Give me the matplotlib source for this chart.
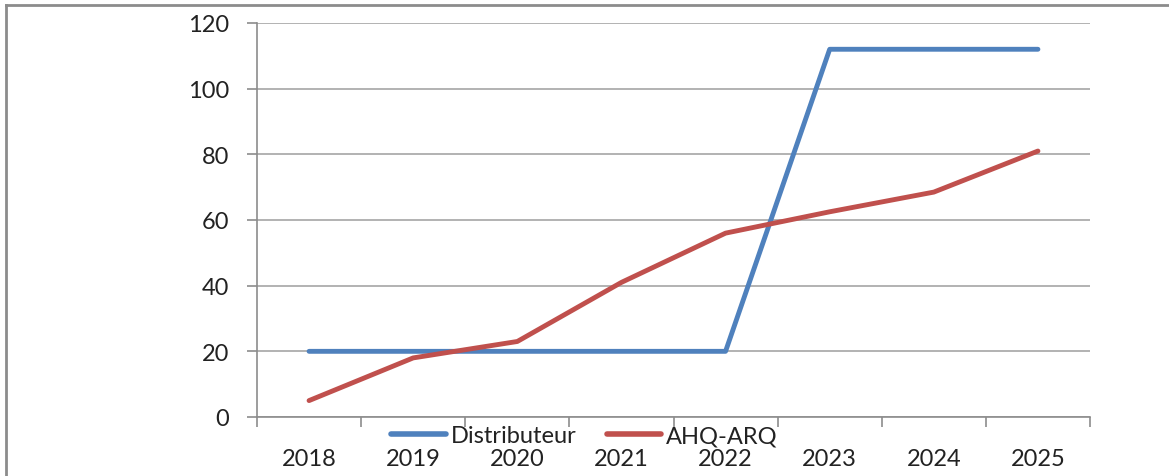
import matplotlib.pyplot as plt
from matplotlib.lines import Line2D

years = ['2018', '2019', '2020', '2021', '2022', '2023', '2024', '2025']
distributeur = [20, 20, 20, 20, 20, 112, 112, 112]
ahq_arq = [5, 18, 23, 41, 56, 62.5, 68.5, 81]

plt.rcParams['font.family'] = ['Lato', 'DejaVu Sans']
fs = 17

fig = plt.figure(figsize=(11.69, 4.77), dpi=100)
ax = fig.add_axes([257 / 1169, 1 - 418 / 477, 833 / 1169, 394 / 477])

x = list(range(len(years)))
ax.plot(x, distributeur, color='#4F81BD', linewidth=3.5, solid_capstyle='round', label='Distributeur', zorder=3)
ax.plot(x, ahq_arq, color='#C0504D', linewidth=3.5, solid_capstyle='round', label='AHQ-ARQ', zorder=3)

ax.set_xlim(-0.5, len(years) - 0.5)
ax.set_ylim(0, 120)
ax.set_yticks(range(0, 121, 20))
ax.set_xticks(x)
ax.set_xticklabels(years)
ax.set_xticks([i - 0.5 for i in range(len(years) + 1)], minor=True)

ax.grid(axis='y', color='#A6A6A6', linewidth=1.2, zorder=0)
for s in ['top', 'right']:
    ax.spines[s].set_visible(False)
for s in ['left', 'bottom']:
    ax.spines[s].set_color('#8C8C8C')
    ax.spines[s].set_linewidth(1.2)

ax.tick_params(axis='y', length=7, width=1.2, color='#8C8C8C', pad=13, labelsize=fs, labelcolor='#222222')
ax.tick_params(axis='x', which='major', length=0, pad=22, labelsize=fs, labelcolor='#222222')
ax.tick_params(axis='x', which='minor', length=7, width=1.2, color='#8C8C8C')

leg = fig.legend(loc='center', bbox_to_anchor=(0.5, 1 - 437 / 477), ncol=2, frameon=False,
                 fontsize=fs, handlelength=2.3, handletextpad=0.2, columnspacing=1.3,
                 borderpad=0, labelcolor='#222222')
for line in leg.get_lines():
    line.set_linewidth(4)
leg.set_zorder(10)

# outer frame (left and top only)
fig.add_artist(Line2D([6 / 1169, 6 / 1169], [0, 1 - 6 / 477], color='#8C8C8C', linewidth=2, transform=fig.transFigure))
fig.add_artist(Line2D([6 / 1169, 1], [1 - 6 / 477, 1 - 6 / 477], color='#8C8C8C', linewidth=2, transform=fig.transFigure))

fig.savefig('out.png', dpi=100)
